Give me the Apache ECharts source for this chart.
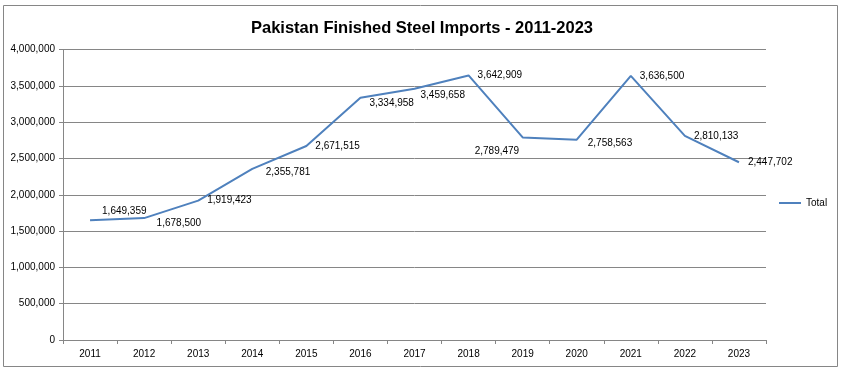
<!DOCTYPE html>
<html>
<head>
<meta charset="utf-8">
<script src="https://cdn.jsdelivr.net/npm/echarts@6/dist/echarts.min.js"></script>
<style>
html,body{margin:0;padding:0;background:#fff;}
#chart{width:844px;height:373px;}
</style>
</head>
<body>
<div id="chart"></div>
<script>
var years = ['2011','2012','2013','2014','2015','2016','2017','2018','2019','2020','2021','2022','2023'];
var totalImports = [1649359,1678500,1919423,2355781,2671515,3334958,3459658,3642909,2789479,2758563,3636500,2810133,2447702];
var yTicks = {min:0, max:4000000, interval:500000};
var titleText = 'Pakistan Finished Steel Imports - 2011-2023';
var seriesName = 'Total';

// label placement styling (not data)
var labelStyle = [
  {offset:[3,-9]}, {offset:[3.5,5]}, {offset:[0,0]}, {offset:[4.5,3]}, {offset:[0,0]},
  {offset:[0,5]}, {offset:[-3,7]}, {offset:[0,0]}, {position:'left', distance:0, offset:[-3.5,14]},
  {offset:[2,4]}, {offset:[0,0]}, {offset:[0,0]}, {offset:[0,0]}
];

function fmt(v){ return Number(v).toLocaleString('en-US'); }

var FONT = '"Liberation Sans", Arial, sans-serif';
var seriesData = totalImports.map(function(v,i){
  var ls = labelStyle[i] || {};
  var lab = {};
  for (var k in ls) lab[k] = ls[k];
  return {value:v, label:lab};
});

var chart = echarts.init(document.getElementById('chart'), null, {renderer:'canvas'});
chart.setOption({
  animation:false,
  backgroundColor:'#ffffff',
  title:{
    text:titleText, left:'center', top:15,
    textStyle:{fontFamily:FONT, fontSize:16.5, fontWeight:'bold', color:'#000'}
  },
  graphic:[{
    type:'rect', silent:true, z:-10,
    shape:{x:3.5, y:5.5, width:834, height:361},
    style:{fill:'none', stroke:'#868686', lineWidth:1}
  }],
  legend:{
    data:[seriesName], left:779, top:198, orient:'vertical', padding:0,
    icon:'rect', itemWidth:22, itemHeight:2,
    textStyle:{fontFamily:FONT, fontSize:10, color:'#000'}
  },
  grid:{left:63, right:78, top:49.5, bottom:33, containLabel:false},
  xAxis:{
    type:'category', data:years, boundaryGap:true,
    axisLine:{lineStyle:{color:'#868686', width:1}},
    axisTick:{show:true, alignWithLabel:false, length:4, lineStyle:{color:'#868686'}},
    axisLabel:{fontFamily:FONT, fontSize:10, color:'#000', margin:9},
    splitLine:{show:false}
  },
  yAxis:{
    type:'value', min:yTicks.min, max:yTicks.max, interval:yTicks.interval,
    axisLine:{show:true, lineStyle:{color:'#868686', width:1}},
    axisTick:{show:true, length:4, lineStyle:{color:'#868686'}},
    axisLabel:{fontFamily:FONT, fontSize:10, color:'#000', margin:8, formatter:function(v){return fmt(v);}},
    splitLine:{show:true, lineStyle:{color:'#868686', width:1}}
  },
  series:[{
    name:seriesName, type:'line', data:seriesData,
    showSymbol:true, symbol:'circle', symbolSize:0,
    lineStyle:{color:'#4F81BD', width:2},
    itemStyle:{color:'#4F81BD'},
    label:{show:true, position:'right', distance:9, fontFamily:FONT, fontSize:10, color:'#000',
      formatter:function(p){return fmt(p.value);}}
  }]
});
</script>
</body>
</html>
